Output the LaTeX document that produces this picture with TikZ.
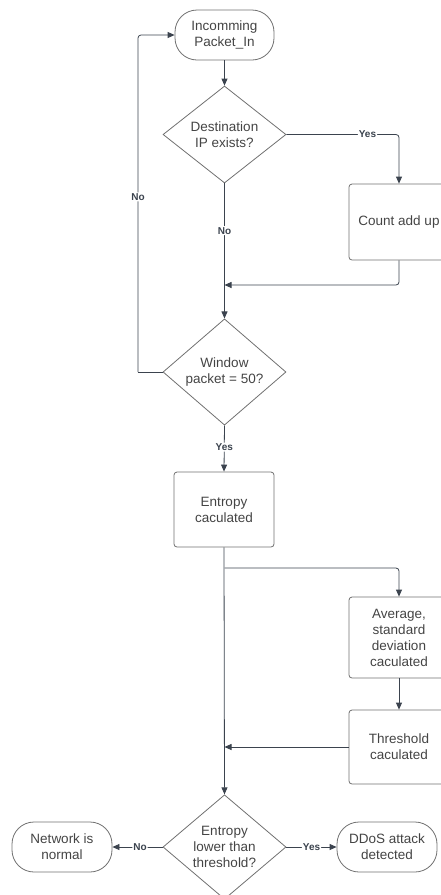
\documentclass[tikz,border=0pt]{standalone}
\usepackage{fontspec}
\setmainfont{Liberation Sans}
\usetikzlibrary{shapes.geometric,arrows.meta}
\definecolor{edgecol}{HTML}{3B434E}
\definecolor{bordercol}{HTML}{707070}
\definecolor{txtcol}{HTML}{444444}
\tikzset{
  base/.style={draw=bordercol, line width=0.8pt, text=txtcol, align=center,
    font=\fontsize{13.5}{16}\selectfont, inner sep=0pt},
  stadium/.style={base, rectangle, rounded corners=22pt, minimum width=99pt, minimum height=50pt},
  procbox/.style={base, rectangle, rounded corners=3pt, minimum width=100pt},
  decision/.style={base, diamond, minimum width=123pt, minimum height=97pt},
  conn/.style={draw=edgecol, line width=0.8pt, rounded corners=3pt,
    -{Triangle[length=7pt,width=6pt]}},
  plain/.style={draw=edgecol, line width=0.8pt, rounded corners=3pt},
  lbl/.style={fill=white, text=edgecol, font=\fontsize{10}{12}\selectfont\bfseries, inner sep=1pt}
}
\begin{document}
\begin{tikzpicture}[x=1pt,y=-1pt]
\useasboundingbox (0,0) rectangle (441,895);

% nodes
\node[stadium] (start) at (224.5,35) {Incomming\\Packet\_In};
\node[decision] (d1) at (224.5,134.5) {Destination\\IP exists?};
\node[procbox, minimum height=76pt] (count) at (399,222) {Count add up};
\node[decision] (d2) at (224.5,372) {Window\\packet = 50?};
\node[procbox, minimum height=75pt] (entropy) at (224,509.5) {Entropy\\caculated};
\node[procbox, minimum height=81pt] (avg) at (399,637.5) {Average,\\standard\\deviation\\caculated};
\node[procbox, minimum height=74pt] (thr) at (399,747) {Threshold\\caculated};
\node[decision, minimum height=98pt] (d3) at (224.5,847) {Entropy\\lower than\\threshold?};
\node[stadium, minimum width=100pt] (normal) at (62,847) {Network is\\normal};
\node[stadium, minimum width=100pt] (ddos) at (387,847) {DDoS attack\\detected};

% junction points
\coordinate (j1) at (224.5,285);
\coordinate (loop) at (138,372);
\coordinate (br) at (224.5,568);
\coordinate (j2) at (224.5,747);

% connectors
\draw[conn] (start) -- (d1);
\draw[conn] (d1.east) -| node[lbl, pos=0.36] {Yes} (count.north);
\draw[conn] (d1.south) -- node[lbl, pos=0.35] {No} (d2.north);
\draw[conn] (count.south) |- (j1);
\draw[plain] (d2.west) -- (loop);
\draw[conn] (loop) |- node[lbl, pos=0.26] {No} (start.west);
\draw[conn] (d2.south) -- node[lbl, pos=0.47] {Yes} (entropy.north);
\draw[conn] (entropy.south) -- (d3.north);
\draw[conn] (br) -| (avg.north);
\draw[conn] (avg.south) -- (thr.north);
\draw[conn] (thr.west) -- (j2);
\draw[conn] (d3.west) -- node[lbl, pos=0.45] {No} (normal.east);
\draw[conn] (d3.east) -- node[lbl, pos=0.5] {Yes} (ddos.west);
\end{tikzpicture}
\end{document}
